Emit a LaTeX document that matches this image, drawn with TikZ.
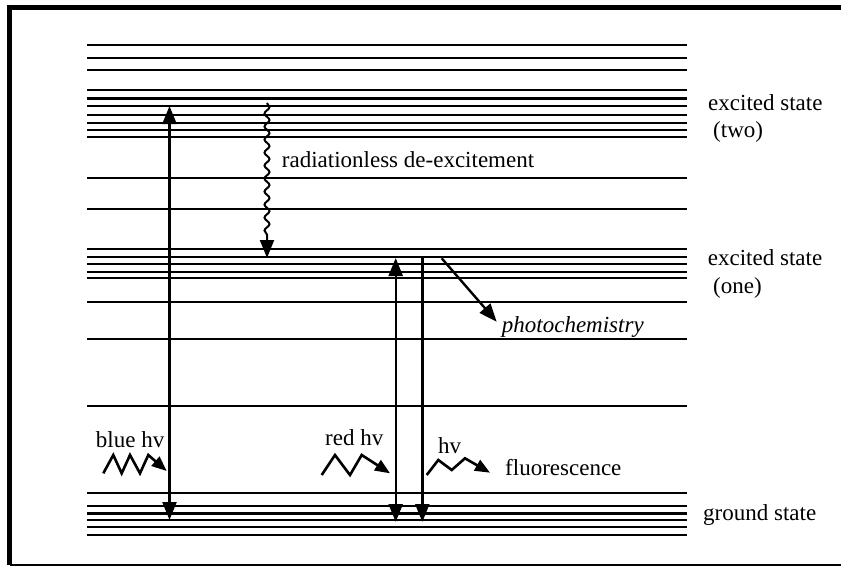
\documentclass[tikz,border=0pt]{standalone}
\usepackage{fontspec}
\setmainfont{Liberation Serif}
\usetikzlibrary{arrows.meta,decorations.pathmorphing}
\begin{document}
\begin{tikzpicture}[x=1pt,y=-1pt,
  level/.style={line width=2.4pt},
  trans/.style={line width=2.4pt},
  bighead/.style={-{Triangle[length=18pt,width=14pt]}},
  twohead/.style={{Triangle[length=18pt,width=14pt]}-{Triangle[length=18pt,width=14pt]}},
  photon/.style={line width=2.6pt,line join=miter,-{Triangle[length=15pt,width=12pt]}},
  wavy/.style={line width=2pt,decorate,decoration={snake,segment length=13pt,amplitude=2.5pt,post length=18pt}},
  lbl/.style={anchor=base west,inner sep=0pt,font=\fontsize{23}{27}\selectfont}]
\useasboundingbox (0,0) rectangle (841,568);
% frame
\draw[line width=5pt] (9.5,565) -- (9.5,7.5) -- (841,7.5);
\draw[line width=1.5pt] (9.5,565) -- (841,565);
% energy levels
\foreach \y in {45,57.7,70,90,98.3,106,115,122.7,130,136.7,178,209,249,256.7,264,272,278,302,339,406,492.7,505.7,513.3,519.7,527,535}
  \draw[level] (87,\y) -- (687,\y);
% coordinates
\coordinate (blueTop) at (169.5,106);
\coordinate (blueBot) at (169.5,520);
\coordinate (waveTop) at (267,103);
\coordinate (waveBot) at (267,258);
\coordinate (redTop) at (395.7,258);
\coordinate (redBot) at (395.7,522);
\coordinate (flTop) at (422.3,257);
\coordinate (flBot) at (422.3,522);
\coordinate (phS) at (441.7,258.3);
\coordinate (phE) at (496.7,321.7);
% transitions
\draw[trans,twohead] (blueBot) -- (blueTop);
\draw[trans,twohead] (redBot) -- (redTop);
\draw[trans,bighead] (flTop) -- (flBot);
\draw[trans,bighead] (phS) -- (phE);
\draw[wavy,-{Triangle[length=18pt,width=14pt]}] (waveTop) -- (waveBot);
% photons
\draw[photon] (103.3,473.3) -- (113.3,455) -- (121.7,473.3) -- (130,455) -- (140,473.3) -- (148.3,455) -- (166.7,471);
\draw[photon] (321.7,475) -- (335,455) -- (350,475) -- (361.7,455) -- (390,473.3);
\draw[photon] (426.7,475) -- (438.3,460) -- (451.7,470) -- (465,458.3) -- (490,472.7);
% labels
\node[lbl] (ex2) at (708,110) {excited state};
\node[lbl] (two) at (713,137.3) {(two)};
\node[lbl] (ex1) at (707.7,265) {excited state};
\node[lbl] (one) at (713,293) {(one)};
\node[lbl] (gs) at (703,520) {ground state};
\node[lbl,font=\fontsize{23}{27}\selectfont\itshape] (photo) at (501.7,332.5) {photochemistry};
\node[lbl] (rad) at (281.7,167) {radiationless de-excitement};
\node[lbl] (blue) at (95.7,447.3) {blue hv};
\node[lbl] (red) at (325,445) {red hv};
\node[lbl] (hv) at (438,453.3) {hv};
\node[lbl] (fl) at (505,475) {fluorescence};
\end{tikzpicture}
\end{document}
